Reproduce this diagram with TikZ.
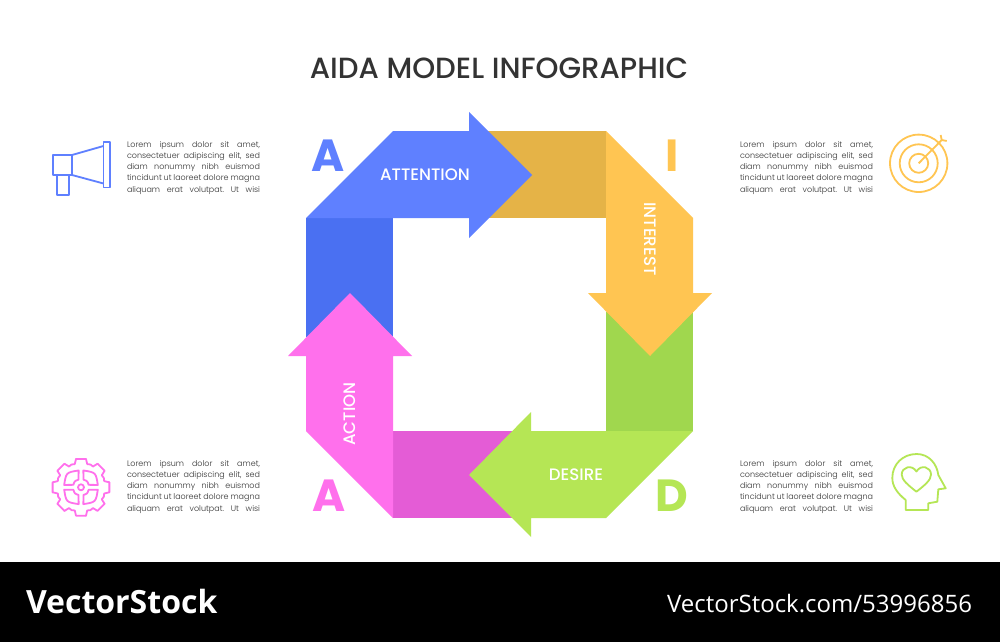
\documentclass[tikz,border=0pt]{standalone}
\usepackage{fontspec}
\usepackage{xcolor}
\setmainfont{Poppins}
\newfontfamily\mediumfont{Poppins Medium}
\newfontfamily\lightfont{Poppins Light}
\newfontfamily\markfont{Open Sans}
\usetikzlibrary{positioning, calc}
\definecolor{aidablue}{HTML}{5F80FF}
\definecolor{aidabluedk}{HTML}{4A70F2}
\definecolor{aidayellow}{HTML}{FFC552}
\definecolor{aidayellowdk}{HTML}{E5B347}
\definecolor{aidalime}{HTML}{B5E655}
\definecolor{aidalimedk}{HTML}{A0D74E}
\definecolor{aidapink}{HTML}{FF70EC}
\definecolor{aidapinkdk}{HTML}{E45CD6}
\definecolor{aidatext}{HTML}{333333}
\newcommand{\loremline}[1]{\hbox to 66.5pt{\frenchspacing\spaceskip=0.9pt plus 1fil\relax #1}}
\newcommand{\loremtext}{\vbox{\baselineskip=5.65pt\loremline{Lorem ipsum dolor sit amet,}\loremline{consectetuer adipiscing elit, sed}\loremline{diam nonummy nibh euismod}\loremline{tincidunt ut laoreet dolore magna}\loremline{aliquam erat volutpat. Ut wisi}}}
\begin{document}
\begin{tikzpicture}[
  x=0.5pt, y=-0.5pt,
  every node/.style={inner sep=0pt, outer sep=0pt},
  titlenode/.style={font=\mediumfont\fontsize{14.6}{18}\selectfont, text=aidatext},
  armlabel/.style={font=\mediumfont\fontsize{8.3}{10}\selectfont, text=white},
  bigletter/.style={font=\fontsize{22.5}{26}\selectfont\bfseries},
  lorem/.style={font=\lightfont\fontsize{4.0}{5.65}\selectfont, text=aidatext, anchor=north west},
  icon/.style={line width=0.9pt, line join=round},
]
\useasboundingbox (0,0) rectangle (1000,642);
\fill[white] (0,0) rectangle (1000,642);
\fill[black] (0,562) rectangle (1000,642);

\fill[aidayellowdk] (487,131) -- (606,131) -- (606,218) -- (487,218) -- cycle;
\fill[aidalimedk] (606,312) -- (693,312) -- (693,431) -- (606,431) -- cycle;
\fill[aidapinkdk] (393,431) -- (512,431) -- (512,518) -- (393,518) -- cycle;
\fill[aidabluedk] (306,218) -- (393,218) -- (393,337) -- (306,337) -- cycle;

\fill[aidablue] (306,218) -- (393,131) -- (469,131) -- (469,112) -- (532,175) -- (469,238) -- (469,218) -- cycle;
\fill[aidayellow] (606,131) -- (693,218) -- (693,293) -- (712,293) -- (650,356) -- (588,293) -- (606,293) -- cycle;
\fill[aidalime] (693,431) -- (606,518) -- (531,518) -- (531,537) -- (469,475) -- (531,412) -- (531,431) -- cycle;
\fill[aidapink] (393,518) -- (306,431) -- (306,356) -- (288,356) -- (350,293) -- (412,356) -- (393,356) -- cycle;

\node[titlenode] (title) at (499,68) {AIDA MODEL INFOGRAPHIC};
\node[armlabel] (attention) at (425,175) {ATTENTION};
\node[armlabel, rotate=-90] (interest) at (650,239) {INTEREST};
\node[armlabel] (desire) at (576,475) {DESIRE};
\node[armlabel, rotate=90] (action) at (350,414) {ACTION};

\node[bigletter, text=aidablue] (letterattention) at (328,156) {A};
\node[bigletter, text=aidayellow] (letterinterest) at (672,156) {I};
\node[bigletter, text=aidalime] (letterdesire) at (672,496) {D};
\node[bigletter, text=aidapink] (letteraction) at (329,496) {A};

\node[lorem] (loremattention) at (127,141) {\loremtext};
\node[lorem] (loreminterest) at (740,141) {\loremtext};
\node[lorem] (loremaction) at (127,460) {\loremtext};
\node[lorem] (loremdesire) at (740,460) {\loremtext};

% megaphone
\draw[icon, aidablue] (53,155) rectangle (72,175);
\draw[icon, aidablue] (57,175) rectangle (69,195);
\draw[icon, aidablue] (72,155) -- (103.5,146) (72,175) -- (103.5,183.5);
\draw[icon, aidablue] (103.5,142) rectangle (110,187.5);

% target
\draw[icon, aidayellow] (918.7,163.3) circle [radius=28.7] circle [radius=19] circle [radius=9.5];
\draw[icon, aidayellow] (918.7,163.3) -- (941.7,140) -- (940.7,135) (941.7,140) -- (946.7,141);

% gear
\coordinate (gearcenter) at (81,487.3);
\foreach \ang in {0,45,...,315} {
  \draw[icon, aidapink, line cap=round] ($(gearcenter)+({\ang-10}:28.8)$) -- ($(gearcenter)+({\ang+10}:28.8)$) -- ($(gearcenter)+({\ang+15}:24)$) .. controls ($(gearcenter)+({\ang+22.5}:25)$) .. ($(gearcenter)+({\ang+30}:24)$) -- ($(gearcenter)+({\ang+35}:28.8)$);
}
\draw[icon, aidapink] (gearcenter) circle [radius=3];
\foreach \ang in {0,90,180,270} {
  \draw[icon, aidapink] ($(gearcenter)+({\ang+8}:17)$) -- ($(gearcenter)+({\ang+18}:8)$) .. controls ($(gearcenter)+({\ang+45}:9)$) .. ($(gearcenter)+({\ang+72}:8)$) -- ($(gearcenter)+({\ang+82}:17)$) .. controls ($(gearcenter)+({\ang+45}:21)$) .. cycle;
}

% head
\draw[icon, aidalime] (905.7,510) -- (905.7,500) .. controls (897,493) and (892.3,486) .. (892.3,478) .. controls (892.3,464) and (903,454) .. (916.7,454) .. controls (929,454) and (937,464) .. (938.3,475) -- (945.7,488.3) -- (938.3,489.3) -- (937.3,501.7) -- (928.3,503.3) -- (928.3,510) -- cycle;
\draw[icon, aidalime] (916.4,491.7) .. controls (908,485) and (901.7,480) .. (901.7,474.5) .. controls (901.7,467) and (912,464) .. (916.4,471.5) .. controls (921,464) and (931,467) .. (931,474.5) .. controls (931,480) and (925,485) .. (916.4,491.7) -- cycle;

\node[font=\markfont\fontsize{16}{20}\selectfont\bfseries, text=white, anchor=west] (brand) at (26,601) {VectorStock};
\node[font=\markfont\fontsize{12}{14}\selectfont, text=white, anchor=east] (imageid) at (972,604) {VectorStock.com/53996856};
\end{tikzpicture}
\end{document}
